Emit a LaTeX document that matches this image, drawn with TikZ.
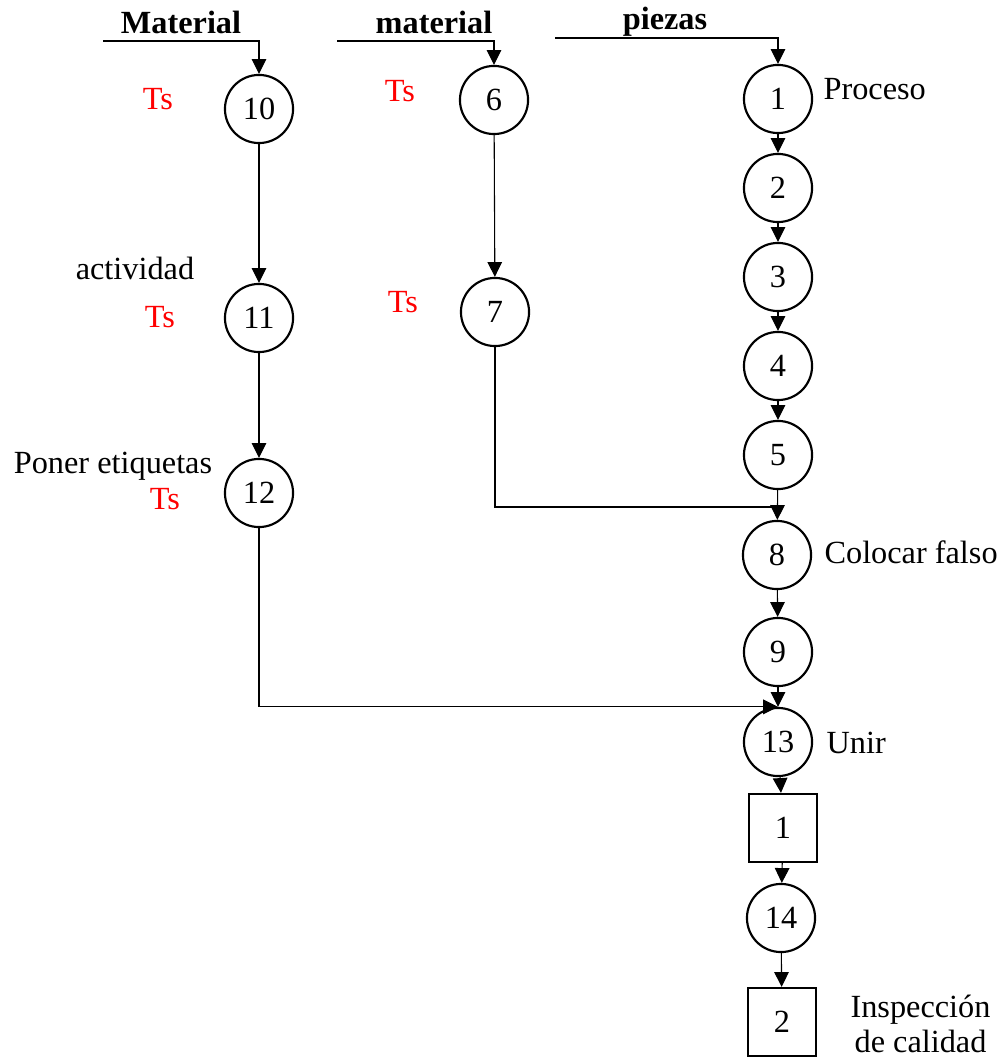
\documentclass[tikz,border=0pt]{standalone}
\usepackage{fontspec}
\setmainfont{Liberation Serif}
\usetikzlibrary{arrows.meta}

\begin{document}
\begin{tikzpicture}[x=0.3715pt, y=-0.3715pt,
    every node/.style={font=\fontsize{12}{13}\selectfont},
    op/.style={draw, circle, line width=0.8pt, minimum size=25.3pt, inner sep=0pt},
    insp/.style={draw, rectangle, line width=0.8pt, minimum size=25.3pt, inner sep=0pt},
    head/.style={font=\fontsize{12}{13}\selectfont\bfseries, anchor=base},
    ts/.style={text=red, anchor=base},
    note/.style={inner sep=0pt},
    flow/.style={line width=0.4pt, -{Triangle[length=5.5pt, width=5.4pt]}},
    link/.style={line width=0.4pt}]
    \useasboundingbox (0,0) rectangle (1003,1057);

    % entradas
    \node[head] (hMat) at (181,34) {Material};
    \node[head] (hmat) at (434,34) {material};
    \node[head] (hpz) at (665,30) {piezas};
    \coordinate (inMat) at (103,41);
    \coordinate (inmat) at (337,41);
    \coordinate (inPz) at (555,38);

    % columna izquierda
    \node[op] (op10) at (259,109) {10};
    \node[op] (op11) at (259,318) {11};
    \node[op] (op12) at (259,493) {12};
    \node[ts] (ts10) at (158,110) {Ts};
    \node[ts] (ts11) at (160,328) {Ts};
    \node[ts] (ts12) at (165,510) {Ts};
    \node[anchor=base] (lAct) at (135,280) {actividad};
    \node[anchor=base] (lEtq) at (113,474) {Poner etiquetas};

    % columna central
    \node[op] (op6) at (494,100) {6};
    \node[op] (op7) at (495,312) {7};
    \node[ts] (ts6) at (400,102) {Ts};
    \node[ts] (ts7) at (403,313) {Ts};

    % columna derecha
    \node[op] (op1) at (778,99) {1};
    \node[op] (op2) at (778,188) {2};
    \node[op] (op3) at (778,277) {3};
    \node[op] (op4) at (778,366) {4};
    \node[op] (op5) at (778,455) {5};
    \node[op] (op8) at (777,555) {8};
    \node[op] (op9) at (778,652) {9};
    \node[op] (op13) at (778,742) {13};
    \node[insp] (in1) at (783,828) {1};
    \node[op] (op14) at (781,918) {14};
    \node[insp] (in2) at (782,1022) {2};
    \coordinate (join7) at (778,507);

    \node[note, anchor=base west] (lProc) at (823,100) {Proceso};
    \node[note, anchor=base west] (lFalso) at (824,563) {Colocar falso};
    \node[note, anchor=base west] (lUnir) at (826,753) {Unir};
    \node[note, anchor=west, align=center] (lInsp) at (850,1024) {Inspección\\de calidad};

    \draw[flow] (inMat) -| (op10);
    \draw[flow] (inmat) -| (op6);
    \draw[flow] (inPz) -| (op1);

    \draw[flow] (op10) -- (op11);
    \draw[flow] (op11) -- (op12);
    \draw[flow] (op6) -- (op7);

    \draw[flow] (op1) -- (op2);
    \draw[flow] (op2) -- (op3);
    \draw[flow] (op3) -- (op4);
    \draw[flow] (op4) -- (op5);
    \draw[flow] (op5) -- (op8);
    \draw[link] (op7) |- (join7);
    \draw[flow] (op8) -- (op9);
    \draw[flow] (op9) -- (op13);
    \draw[flow] (op12) |- (op13.north);
    \draw[flow] (op13) -- (in1);
    \draw[flow] (in1) -- (op14);
    \draw[flow] (op14) -- (in2);
\end{tikzpicture}
\end{document}
